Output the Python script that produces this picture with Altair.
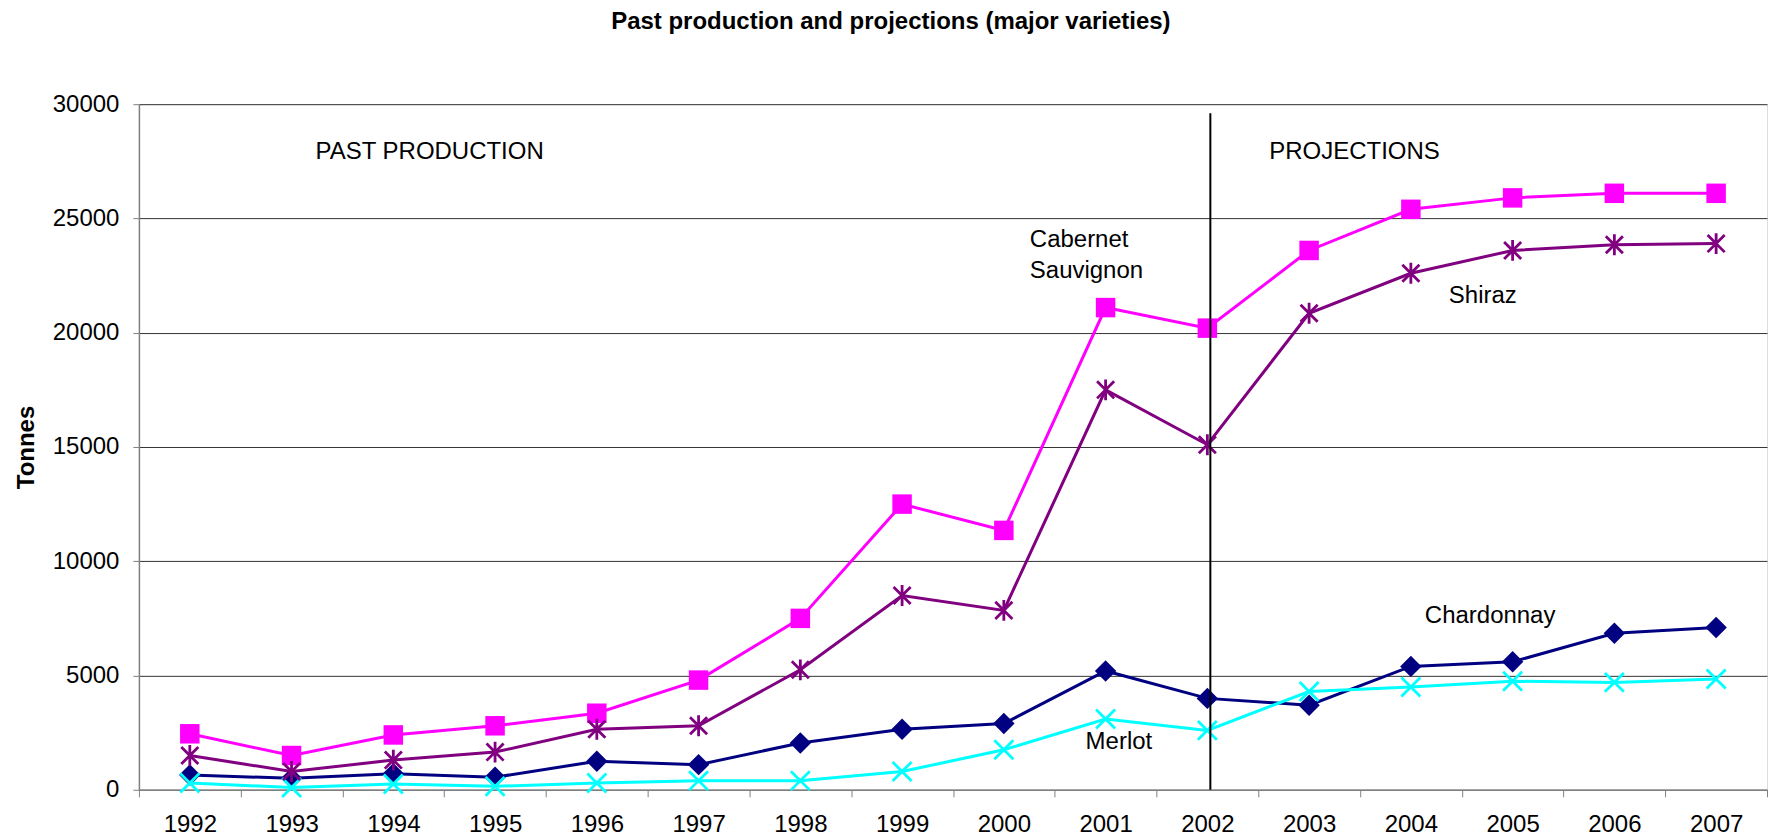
import altair as alt
import pandas as pd

FONT = "Liberation Sans"

# ---- data ----
years = [str(y) for y in range(1992, 2008)]
chardonnay = [650, 500, 700, 550, 1250, 1100, 2050, 2650, 2900, 5200, 4000, 3700, 5400, 5600, 6850, 7100]
cabernet = [2450, 1500, 2400, 2800, 3350, 4800, 7500, 12500, 11350, 21100, 20200, 23600, 25400, 25900, 26100, 26100]
merlot = [300, 100, 250, 150, 300, 400, 400, 800, 1750, 3100, 2600, 4300, 4500, 4750, 4700, 4850]
shiraz = [1500, 800, 1300, 1650, 2650, 2800, 5250, 8500, 7850, 17500, 15100, 20850, 22600, 23600, 23850, 23900]

y_ticks = [0, 5000, 10000, 15000, 20000, 25000, 30000]

ann_text = ["PAST PRODUCTION", "PROJECTIONS", "Cabernet", "Sauvignon", "Shiraz", "Merlot", "Chardonnay"]
ann_year = ["1993", "2002", "2000", "2000", "2004", "2001", "2004"]
ann_value = [27600, 27600, 23750, 22400, 21300, 1780, 7300]

divider_year = ["2002"]
divider_top = [29600]

# ---- styles ----
ASTERISK = "M-0.9,-0.9L0.9,0.9M-0.9,0.9L0.9,-0.9M0,-1.1L0,1.1"
XMARK = "M-1,-1L1,1M-1,1L1,-1"
series = [
    ("Chardonnay", chardonnay, "#000080", "diamond", True, 460),
    ("Cabernet Sauvignon", cabernet, "#FF00FF", "square", True, 380),
    ("Merlot", merlot, "#00FFFF", XMARK, False, 360),
    ("Shiraz", shiraz, "#800080", ASTERISK, False, 360),
]
ann_dx = [24, 62, 26, 26, 38, -20, 14]

x_enc = alt.X(
    "year:O",
    scale=alt.Scale(type="band", domain=years, paddingInner=0, paddingOuter=0),
    axis=alt.Axis(
        title=None, labelAngle=0, tickBand="extent", labelFontSize=24, labelFont=FONT,
        labelColor="black", tickSize=7, tickColor="#808080", domainColor="#808080",
        domainWidth=1.5, labelPadding=16, grid=False,
    ),
)
y_enc = alt.Y(
    "value:Q",
    scale=alt.Scale(domain=[0, 30000], nice=False),
    axis=alt.Axis(
        values=y_ticks, format="d", title="Tonnes", titleFontSize=24, titleFont=FONT,
        titleFontWeight="bold", titleColor="black", titlePadding=14,
        labelFontSize=24, labelFont=FONT, labelColor="black", labelPadding=14,
        tickSize=6, tickColor="#808080", domainColor="#808080", domainWidth=1.5,
        grid=True, gridColor="#333333", gridOpacity=1, gridWidth=1,
    ),
)

layers = []
for name, vals, color, shape, filled, size in series:
    d = pd.DataFrame({"year": years, "value": vals, "series": name})
    base = alt.Chart(d).encode(x=x_enc, y=y_enc)
    layers.append(base.mark_line(color=color, strokeWidth=3))
    if filled:
        layers.append(base.mark_point(shape=shape, filled=True, color=color, size=size, opacity=1))
    else:
        layers.append(base.mark_point(shape=shape, filled=False, color=color, size=size,
                                      strokeWidth=2.8, opacity=1))

div_df = pd.DataFrame({"year": divider_year, "value": divider_top})
layers.append(
    alt.Chart(div_df).mark_rule(color="black", strokeWidth=2, xOffset=3).encode(
        x=x_enc, y=y_enc, y2=alt.datum(0)
    )
)

for t, yr, v, dx in zip(ann_text, ann_year, ann_value, ann_dx):
    d = pd.DataFrame({"year": [yr], "value": [v], "label": [t]})
    layers.append(
        alt.Chart(d).mark_text(align="left", baseline="alphabetic", dx=dx, fontSize=24,
                               font=FONT, color="black").encode(x=x_enc, y=y_enc, text="label:N")
    )

chart = alt.layer(*layers).properties(
    width=1629,
    height=686,
    padding={"left": 6, "top": 2, "right": 0, "bottom": 0},
    title=alt.TitleParams(
        "Past production and projections (major varieties)", fontSize=24, font=FONT,
        fontWeight="bold", anchor="middle", frame="bounds", offset=58, color="black",
    ),
).configure_view(stroke=None).configure(background="white")

chart.save("out.html", embed_options={"renderer": "svg", "actions": False})
